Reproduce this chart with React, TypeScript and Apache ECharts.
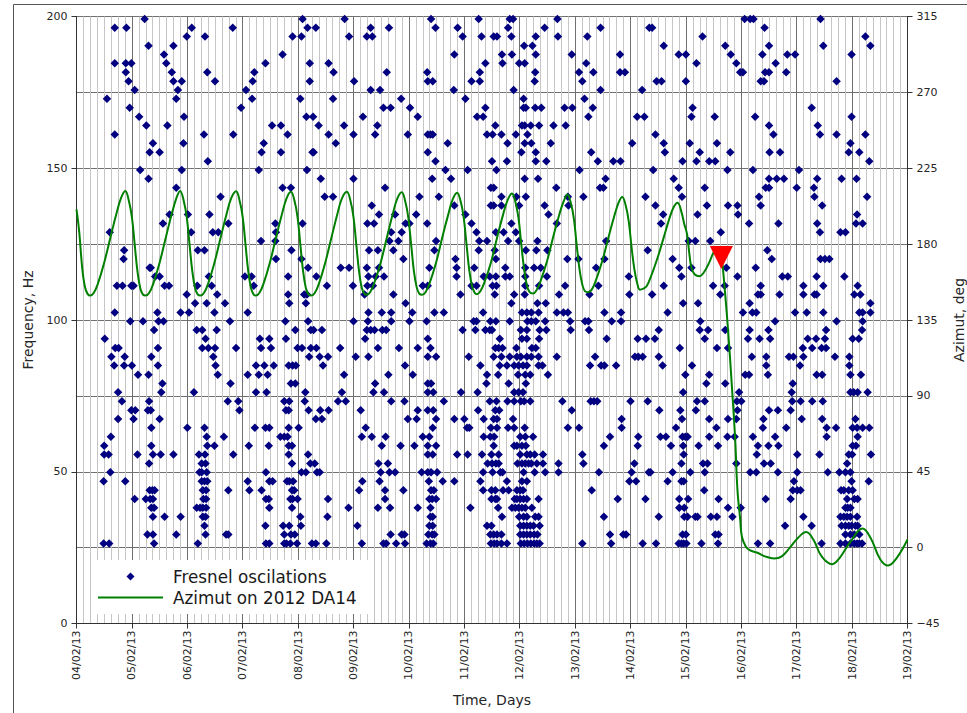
import React, { useEffect, useRef } from "react";
import * as echarts from "echarts";

const dateLabels = ["04/02/13","05/02/13","06/02/13","07/02/13","08/02/13","09/02/13","10/02/13","11/02/13","12/02/13","13/02/13","14/02/13","15/02/13","16/02/13","17/02/13","18/02/13","19/02/13"];

// Frequency bins (Hz), from the top of the chart down
const freqBins = [199.2,196.3,193.4,190.4,187.5,184.6,181.6,178.7,175.8,172.9,169.9,167,164.1,161.1,158.2,155.3,152.3,149.4,146.5,143.6,140.6,137.7,134.8,131.8,128.9,126,123,120.1,117.2,114.3,111.3,108.4,105.5,102.5,99.6,96.7,93.8,90.8,87.9,85,82,79.1,76.2,73.2,70.3,67.4,64.5,61.5,58.6,55.7,52.7,49.8,46.9,43.9,41,38.1,35.2,32.2,29.3,26.4];

// Days since 04/02/13 of each Fresnel oscillation, one list per bin
const timesByBin = [
[1.23,4.08,4.84,6.40,7.26,7.82,7.88,8.68,12.06,12.16,12.22,13.43],
[.69,.90,2.08,2.82,4.17,4.32,5.31,5.64,6.48,6.88,7.79,8.45,9.46,10.34,10.39,12.42],
[1.99,2.32,3.90,4.06,4.92,5.24,5.34,6.97,7.31,7.53,7.59,7.85,8.29,8.69,9.22,11.30,14.24],
[1.30,1.75,8.08,8.23,10.60,11.71,12.50,13.48,14.33],
[1.58,3.72,6.82,7.68,7.86,8.29,8.94,9.81,10.87,11.00,11.81,12.38,12.83,12.97,13.99],
[.69,.89,.99,1.62,3.41,4.21,4.55,7.38,7.69,7.99,8.09,9.20,11.19,11.91,12.62],
[.89,1.72,2.36,3.21,4.64,5.60,6.33,7.28,8.28,9.07,9.33,9.81,9.90,11.98,12.03,12.43,12.50,12.81],
[.94,1.75,1.90,2.50,3.18,4.21,5.01,6.34,6.43,7.13,7.28,8.27,9.13,10.47,10.56,11.00,12.35,12.41,13.72],
[1.05,1.83,3.06,5.31,5.48,6.81,7.89,9.46,10.21],
[.55,1.80,3.17,4.04,4.63,5.86,7.02,8.07,9.17],
[.96,2.97,5.54,5.67,6.02,7.38,8.07,8.11,8.28,8.39,8.81,8.95,9.32,11.12,13.27],
[1.13,1.94,4.15,4.27,5.17,6.16,7.23,7.34,9.24,10.12,10.25,11.10,11.52,12.25,13.99],
[1.26,1.64,3.53,3.69,4.37,4.83,5.43,7.56,8.04,8.09,8.20,8.35,8.61,8.83,12.50,13.38],
[.69,2.30,2.83,3.81,4.55,5.00,5.39,5.98,6.34,6.39,6.43,7.41,7.51,7.67,7.93,8.14,10.45,12.58,13.42,13.72,14.24],
[1.38,1.93,3.38,4.68,6.70,7.78,8.09,8.21,8.56,10.03,10.60,11.07,11.56,13.97],
[1.32,1.50,3.34,3.69,4.26,4.28,6.34,8.03,8.29,9.29,10.62,11.25,11.80,12.51,12.70,13.94,14.13],
[2.37,6.48,7.50,7.77,8.29,8.48,9.41,9.69,9.82,10.94,11.19,11.42,11.53,14.31],
[1.15,1.90,3.29,4.16,6.66,7.06,7.58,9.08,10.41,11.75,12.21,13.04],
[1.30,4.41,5.00,6.42,6.76,8.09,8.33,9.55,10.78,12.50,12.64,12.77,13.37,13.81,14.08],
[1.80,3.72,3.87,5.57,7.48,7.53,8.66,9.45,9.51,10.87,11.34,12.44,12.50,13.00,13.31],
[2.60,4.48,4.63,6.19,6.54,7.67,7.94,8.11,8.87,9.15,10.27,10.93,12.32,13.32,14.27],
[5.33,6.82,7.48,7.53,7.67,7.99,8.45,8.88,10.45,11.38,11.76,11.93,12.35,13.46],
[1.68,2.01,2.40,5.46,5.75,6.13,7.02,8.52,10.59,11.21,11.94,14.09],
[1.56,2.74,3.59,4.08,5.25,5.37,5.94,6.01,6.33,7.13,7.85,8.67,10.55,12.14,12.67,13.37,14.07,14.19],
[.60,2.07,2.46,2.56,3.60,5.68,5.87,7.22,7.57,7.71,7.93,11.63,13.42,13.79,13.88],
[3.33,3.59,5.65,5.81,6.49,7.27,7.41,7.79,7.99,8.32,9.56,11.05,11.17,11.44],
[.86,2.19,2.31,3.88,5.28,5.44,5.72,6.46,7.26,7.55,8.11,8.30,8.50,10.31,12.47],
[.85,3.60,4.06,5.90,6.84,7.57,8.86,9.06,9.53,10.76,12.55,13.43,13.51,13.59],
[1.32,1.34,4.18,4.77,4.92,5.24,5.46,6.37,6.86,7.18,7.74,8.10,8.26,8.38,9.38,10.88,11.10,11.73,12.26],
[1.42,1.50,2.39,3.04,3.16,3.82,4.33,5.27,5.40,5.55,6.86,7.35,7.46,7.57,7.74,7.82,8.10,8.49,9.97,10.92,11.93,12.74,12.84,13.36,13.86],
[.73,.83,.99,1.03,1.59,1.67,2.18,2.44,3.20,4.52,4.99,5.25,5.35,6.25,6.34,7.13,7.22,7.51,7.58,8.10,8.35,8.82,9.42,10.60,11.49,11.70,12.35,13.12,13.48,14.10],
[1.99,2.54,3.82,4.11,4.16,5.20,5.72,6.93,7.55,7.90,8.09,8.71,9.26,9.98,10.39,11.62,12.30,12.35,12.69,13.12,13.32,13.36,14.04,14.15],
[2.14,2.35,2.68,3.84,4.14,5.94,7.85,8.32,8.47,10.95,11.22,12.15,14.33],
[.69,1.46,1.88,2.03,2.49,3.09,5.27,5.51,5.68,6.06,6.46,6.63,7.34,8.04,8.13,8.21,8.34,8.67,8.79,8.87,9.53,9.83,10.67,12.03,12.20,12.27,12.97,13.18,13.48,14.13,14.19,14.33],
[.97,1.20,1.48,1.57,2.77,3.77,4.18,5.00,5.26,5.68,6.01,6.32,7.17,7.22,7.47,7.57,7.82,8.14,8.21,8.29,8.46,8.91,9.18,9.24,9.66,9.83,11.26,12.61,13.72,14.19],
[1.40,2.17,2.27,2.53,3.95,4.23,4.28,4.43,5.24,5.31,5.38,5.52,5.59,6.97,7.20,7.38,7.46,7.50,8.02,8.13,8.36,8.48,8.92,9.25,10.51,11.25,11.40,11.71,12.15,12.49,13.53,14.18],
[.51,2.33,3.31,3.48,3.78,5.21,6.34,7.64,8.04,8.13,8.35,9.57,10.13,10.28,10.44,11.34,12.12,12.33,12.52,13.20,13.35,13.51,14.01,14.12],
[.70,.76,1.47,2.27,2.38,2.50,2.88,3.33,3.51,3.99,4.07,4.23,4.33,4.76,5.44,5.82,6.16,6.39,7.56,7.62,7.69,7.94,8.22,8.29,10.89,11.56,11.76,13.11,13.28,13.45,13.53],
[.63,.87,1.35,2.47,4.20,4.39,4.54,5.04,5.27,6.34,6.49,7.08,7.53,7.67,7.82,7.95,8.02,8.13,8.21,8.34,8.67,9.36,10.08,10.14,10.22,10.51,12.19,12.45,12.86,12.94,13.12,13.69,13.95],
[.68,.86,1.00,1.47,2.51,3.24,3.39,3.56,3.83,3.90,3.96,4.45,5.93,7.29,7.64,7.77,7.90,7.98,8.06,8.13,8.34,8.41,9.27,9.47,9.53,9.74,10.58,11.11,12.45,13.06,13.95],
[1.11,1.30,2.55,3.09,3.29,3.45,4.83,5.63,6.07,7.41,7.61,7.97,8.10,8.19,8.51,10.99,11.42,12.07,12.14,12.48,13.36,13.46,13.97,14.16],
[1.55,2.78,3.87,3.95,5.39,6.34,6.40,7.40,7.80,8.11,11.37,11.71,12.93],
[.75,1.53,2.12,3.24,3.43,4.13,4.79,5.36,5.55,6.34,6.44,6.94,7.24,7.90,7.98,8.06,10.95,11.96,12.91,13.97,14.03,14.10,14.28],
[.82,1.31,2.73,2.92,3.75,3.84,4.12,4.72,4.86,5.68,5.92,6.63,7.46,7.58,7.78,7.90,8.02,8.08,8.19,8.77,9.28,9.34,9.40,10.00,10.31,11.20,11.34,11.92,12.00,12.92,13.07,13.28,13.47],
[.99,1.06,1.29,1.34,2.94,3.78,3.83,4.19,4.40,4.55,5.13,6.16,6.34,6.44,7.25,7.56,7.63,8.94,10.52,10.90,11.18,11.93,12.50,12.66,12.89],
[.75,1.03,1.50,4.32,4.43,5.98,6.14,6.49,6.82,7.00,7.35,7.53,7.59,7.88,9.84,10.93,11.42,11.76,11.91,12.40,13.09,13.46,14.06],
[1.35,2.00,2.31,3.22,3.41,3.48,3.83,4.01,5.22,6.43,7.05,7.09,7.48,7.59,7.79,7.90,8.09,8.87,9.07,9.84,10.82,11.55,12.39,12.81,13.54,13.71,14.01,14.09,14.19,14.31],
[.62,2.35,2.66,3.68,3.75,3.81,5.15,5.33,5.58,6.25,6.37,7.35,7.47,7.54,8.01,8.10,8.24,9.63,10.14,10.54,10.64,10.94,10.99,11.03,11.42,11.75,11.88,12.21,12.61,13.54,14.10],
[.50,1.35,2.36,2.49,3.11,3.47,3.83,3.89,5.51,5.85,6.10,6.34,6.49,7.53,7.90,7.95,8.04,8.11,9.52,10.13,10.73,10.95,11.23,11.58,12.30,12.49,12.67,14.01,14.07],
[.50,.58,1.10,1.38,1.52,1.75,2.21,2.32,2.83,3.83,4.18,6.34,6.43,6.87,7.06,7.32,7.49,7.62,8.01,8.13,8.19,8.27,8.42,9.13,10.96,12.28,13.01,13.41,13.94,14.00,14.34],
[1.31,2.26,2.33,3.89,4.22,4.30,5.45,5.62,7.42,7.50,7.57,7.62,7.96,8.04,8.10,8.16,8.21,8.31,8.42,8.70,9.15,10.07,10.92,11.31,11.39,11.91,12.41,12.53,13.91],
[.61,2.22,2.26,2.35,3.42,4.06,4.14,4.34,4.39,5.49,5.65,5.75,6.23,6.34,6.40,6.51,7.34,7.51,7.65,7.69,8.07,8.27,8.46,8.70,9.43,10.02,10.33,10.36,10.76,11.08,11.34,12.16,12.27,12.66,13.01,13.56,13.77,13.88,13.97],
[.49,.88,2.26,2.31,2.36,3.09,3.48,3.54,3.80,3.84,3.91,5.16,5.47,6.36,6.61,6.82,7.29,7.77,8.04,8.13,9.98,10.10,10.67,10.92,10.96,12.95,13.99,14.30],
[1.32,1.37,1.41,2.28,2.34,2.74,3.12,3.34,3.89,3.93,5.10,5.57,5.90,6.40,6.45,7.34,7.49,7.56,7.70,7.80,7.95,8.01,8.06,9.30,11.33,12.93,13.01,13.07,13.80,13.85,13.94,14.01],
[1.05,1.25,1.33,1.38,2.29,2.34,3.42,3.47,3.86,3.90,3.99,4.54,5.57,6.37,6.42,6.49,7.49,7.56,7.59,7.91,7.95,8.01,8.07,8.13,8.34,9.77,10.27,10.88,11.04,11.59,12.44,12.89,13.91,14.04,14.10],
[1.35,1.40,2.17,2.23,2.28,2.34,3.48,3.89,4.91,5.44,5.66,6.16,6.39,7.11,7.61,7.86,7.92,7.98,8.04,8.10,8.22,10.88,10.97,11.76,11.99,13.88,13.92,13.97],
[1.38,1.59,1.88,2.28,2.33,4.04,4.53,6.39,6.43,7.68,7.99,8.07,8.13,8.28,8.34,9.52,10.51,10.97,11.03,11.17,11.21,11.45,11.56,11.84,13.12,13.79,13.85,13.91,13.97,14.09],
[2.31,3.41,3.73,3.84,4.05,5.07,6.37,6.43,7.41,7.49,8.01,8.07,8.13,8.19,8.25,8.36,12.79,13.27,13.81,13.88,13.94,13.99,14.06,14.10],
[1.28,1.38,1.80,2.33,2.70,2.74,3.75,3.87,3.94,5.67,5.87,5.92,6.35,6.42,6.46,7.47,7.53,7.59,7.67,8.01,8.07,8.13,8.19,8.26,8.32,9.63,9.87,9.92,10.94,11.00,11.53,11.59,13.88,13.97,14.04,14.13],
[.49,.59,1.40,2.19,3.42,3.48,3.75,3.79,3.86,3.98,4.25,4.32,4.51,5.15,5.54,5.59,5.77,5.93,6.32,6.39,6.44,7.48,7.54,7.59,7.67,7.77,8.02,8.08,8.14,8.20,8.26,8.31,8.36,9.13,9.65,10.22,10.46,10.87,10.92,10.96,11.01,11.28,11.58,12.30,12.52,13.45,13.79,13.88,13.97,14.04,14.09,14.13,14.18],
];

// Azimuth of 2012 DA14: time in days, value in degrees
const azimuthDays = [
0,.05,.10,.15,.20,
.25,.31,.38,.50,.62,.72,.80,.88,.95,1.00,1.05,1.10,1.15,1.20,
1.25,1.31,1.38,1.50,1.62,1.72,1.80,1.87,1.94,1.99,2.04,2.09,2.14,2.19,
2.24,2.30,2.37,2.49,2.61,2.71,2.79,2.88,2.95,3.00,3.05,3.10,3.15,3.20,
3.24,3.30,3.37,3.49,3.61,3.71,3.79,3.87,3.94,3.99,4.04,4.09,4.14,4.19,
4.24,4.30,4.37,4.49,4.61,4.71,4.79,4.88,4.95,5.00,5.05,5.10,5.15,5.20,
5.24,5.30,5.37,5.49,5.61,5.71,5.79,5.87,5.94,5.99,6.04,6.09,6.14,6.19,
6.24,6.30,6.37,6.49,6.61,6.71,6.79,6.87,6.94,6.99,7.04,7.09,7.14,7.19,
7.23,7.29,7.36,7.48,7.60,7.70,7.78,7.86,7.93,7.98,8.03,8.08,8.13,8.18,
8.24,8.30,8.37,8.49,8.61,8.71,8.79,8.86,8.93,8.98,9.03,9.08,9.13,9.18,
9.24,9.30,9.37,9.49,9.61,9.71,9.79,9.85,9.92,9.97,10.02,10.07,10.12,10.17,
10.23,10.29,10.36,10.48,10.60,10.70,10.78,10.85,10.92,10.97,11.02,11.06,11.10,11.16,
11.25,11.32,11.42,11.50,11.58,11.64,11.67,11.76,11.83,11.89,11.93,11.98,12.01,12.08,12.16,12.28,12.43,12.59,12.73,12.88,13.03,13.17,13.30,13.45,13.64,13.78,13.96,14.19,14.33,14.51,14.65,14.81,15,
];
const azimuthDeg = [
200.6,187,167,155,150.5,
149.5,151,156,169,185,198,207,211.5,205,196,180,164,154,150,
149.5,151,156,169,185,198,207,211.5,205,196,180,164,154,150,
149.5,151,156,169,185,198,207,211.3,205,196,180,164,154,150,
149.5,151,156,169,185,198,207,211,205,196,180,164,154,150,
149.5,151,156,169,185,198,207,211,205,196,180,164,154,150.5,
150,151.5,156.5,169,185,198,207,210.8,204.5,195.5,180,164,154.5,150.5,
150,151.5,156.5,169,185,197.5,206.5,210.5,204.5,195.5,180,164.5,155,151,
150.3,152,157,169,185,197.5,206,210,204,195,179.5,165,155.5,151.5,
150.7,152.5,157.5,169.5,185,197,205,209.4,203.5,194.5,179,165,156,152,
151.5,153,158,170,185,197,205,208,202,193,178,165,157,153,
153.6,155,160,171,184,195,202,204.6,199,192,186,175,166,162,
161,163,169,175,178,172,165,129.4,95.6,64,34.5,16.7,6.6,.7,-1.7,-2.9,-5.2,-6.4,-5.2,.1,6,9.2,4.8,-5.2,-9.8,-5.9,3,11.3,6,-7,-10.6,-5.9,4.8,
];
const markerDay = 11.64;
const markerDeg = 172;

const seriesNames = ["Fresnel oscilations", "Azimut on 2012 DA14"];

const FONT = "DejaVu Sans";
const TEXT = "#262626";

export default function App() {
  const ref = useRef<HTMLDivElement>(null);
  useEffect(() => {
    const chart = echarts.init(ref.current!, undefined, { renderer: "svg" });
    const points: number[][] = [];
    timesByBin.forEach((times, i) => times.forEach((t) => points.push([t, freqBins[i]])));
    const azimuth = azimuthDays.map((t, i) => [t, azimuthDeg[i]]);
    chart.setOption({
      animation: false,
      backgroundColor: "#fff",
      textStyle: { fontFamily: FONT },
      grid: { left: 76.5, top: 16.5, width: 831, height: 607, outerBoundsMode: "none", show: true, borderColor: "#333", borderWidth: 1, backgroundColor: "transparent" },
      legend: {
        left: 92, top: 560, orient: "vertical", backgroundColor: "#fff",
        padding: [8, 12, 8, 5], itemWidth: 65, itemHeight: 8, itemGap: 4,
        data: [
          { name: seriesNames[0], icon: "path://M5 0L10 5L5 10L0 5Z" },
          { name: seriesNames[1], itemStyle: { color: "rgba(0,0,0,0)" } },
        ],
        textStyle: { fontFamily: FONT, fontSize: 16.8, color: "#1a1a1a", padding: [0, 0, 0, 5] },
      },
      xAxis: {
        type: "value", min: 0, max: 15, interval: 1,
        name: "Time, Days", nameLocation: "middle", nameGap: 69,
        nameTextStyle: { fontFamily: FONT, fontSize: 14, color: TEXT },
        axisLine: { lineStyle: { color: "#333" } },
        axisTick: { length: 5, lineStyle: { color: "#333" } },
        axisLabel: { rotate: 90, fontFamily: FONT, fontSize: 11, color: TEXT, margin: 7, formatter: (v: number) => dateLabels[v] },
        splitLine: { show: true, lineStyle: { color: "#707070", width: 1 } },
        minorTick: { show: false, splitNumber: 8 },
        minorSplitLine: { show: true, lineStyle: { color: "#c6c6c6", width: 1 } },
      },
      yAxis: [
        {
          type: "value", min: 0, max: 200, interval: 50,
          name: "Frequency, Hz", nameLocation: "middle", nameGap: 42,
          nameTextStyle: { fontFamily: FONT, fontSize: 14, color: TEXT },
          axisLine: { show: true, lineStyle: { color: "#333" } },
          axisTick: { show: true, length: 5, lineStyle: { color: "#333" } },
          axisLabel: { fontFamily: FONT, fontSize: 11, color: TEXT, margin: 9 },
          splitLine: { show: false },
        },
        {
          type: "value", min: -45, max: 315, interval: 45, position: "right",
          name: "Azimut, deg", nameLocation: "middle", nameGap: 44, nameRotate: 90,
          nameTextStyle: { fontFamily: FONT, fontSize: 14, color: TEXT },
          axisLine: { show: true, lineStyle: { color: "#333" } },
          axisTick: { show: true, length: 5, lineStyle: { color: "#333" } },
          axisLabel: { fontFamily: FONT, fontSize: 11, color: TEXT, margin: 9, formatter: (v: number) => String(v).replace("-", "\u2212") },
          splitLine: { show: true, lineStyle: { color: "#707070", width: 1 } },
        },
      ],
      series: [
        {
          name: seriesNames[0], type: "scatter", yAxisIndex: 0, data: points,
          symbol: "diamond", symbolSize: 8.5, itemStyle: { color: "#000080", opacity: 1 }, z: 3,
        },
        {
          name: seriesNames[1], type: "line", yAxisIndex: 1, data: azimuth,
          symbol: "none", smooth: 0.4,
          lineStyle: { color: "#008000", width: 2 }, itemStyle: { color: "#008000" }, z: 4,
        },
        {
          name: "marker", type: "scatter", yAxisIndex: 1, data: [[markerDay, markerDeg]],
          symbol: "triangle", symbolRotate: 180, symbolSize: [23, 23], itemStyle: { color: "#ff0000", opacity: 1 }, z: 5,
        },
      ],
      graphic: [
        { type: "line", silent: true, shape: { x1: 13.5, y1: 4.5, x2: 13.5, y2: 713 }, style: { stroke: "#555", lineWidth: 1 } },
        { type: "line", silent: true, shape: { x1: 13.5, y1: 4.5, x2: 967, y2: 4.5 }, style: { stroke: "#555", lineWidth: 1 } },
      ],
    });
    return () => chart.dispose();
  }, []);
  return <div ref={ref} style={{ position: "absolute", left: 0, top: 0, width: 967, height: 713 }} />;
}
